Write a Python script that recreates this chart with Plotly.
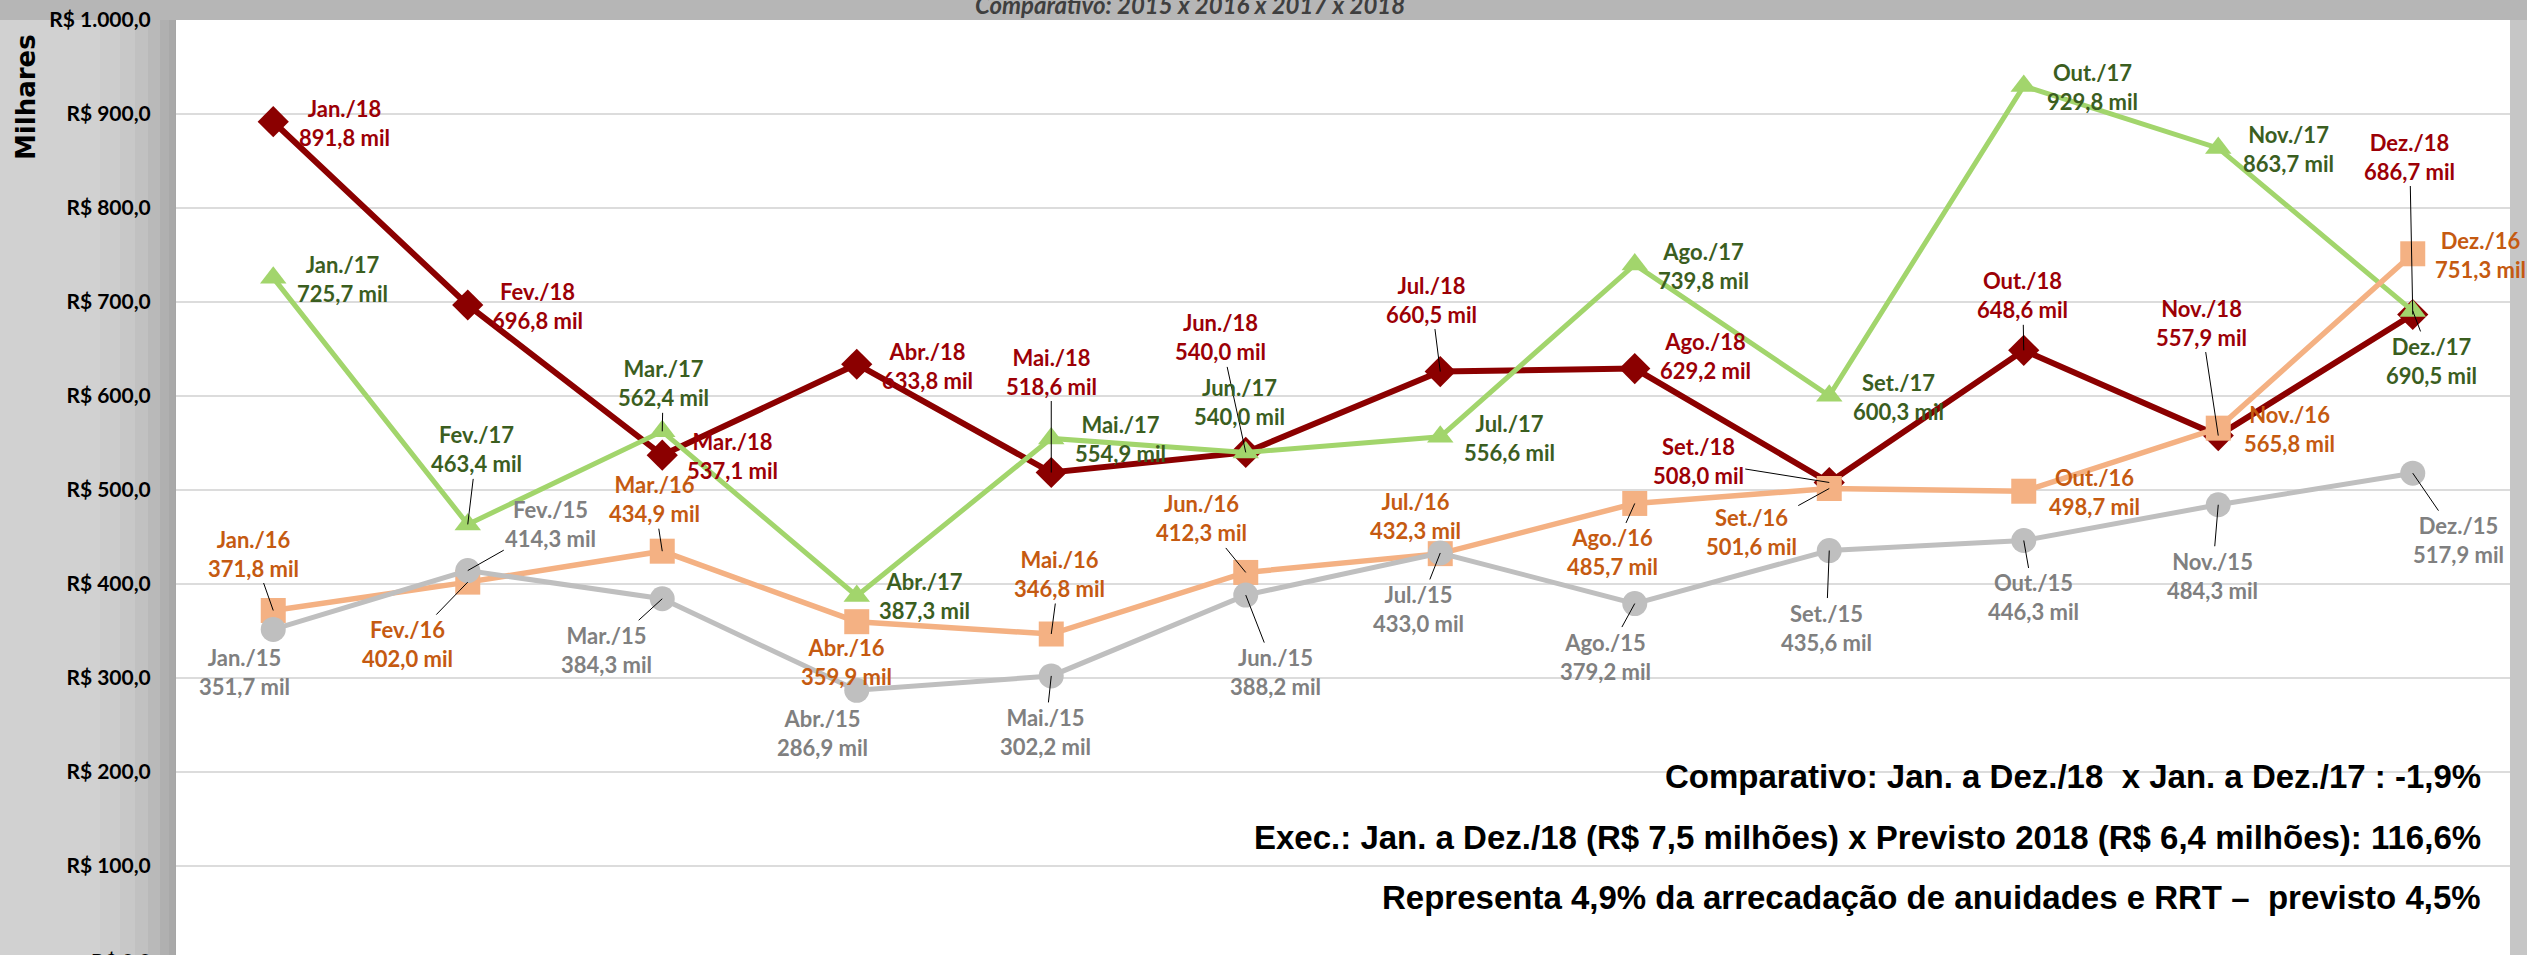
import plotly.graph_objects as go

# ---------------- data ----------------
months = ["Jan", "Fev", "Mar", "Abr", "Mai", "Jun", "Jul", "Ago", "Set", "Out", "Nov", "Dez"]
month_abbr = ["Jan.", "Fev.", "Mar.", "Abr.", "Mai.", "Jun.", "Jul.", "Ago.", "Set.", "Out.", "Nov.", "Dez."]

val_2015 = [351.7, 414.3, 384.3, 286.9, 302.2, 388.2, 433.0, 379.2, 435.6, 446.3, 484.3, 517.9]
val_2016 = [371.8, 402.0, 434.9, 359.9, 346.8, 412.3, 432.3, 485.7, 501.6, 498.7, 565.8, 751.3]
val_2017 = [725.7, 463.4, 562.4, 387.3, 554.9, 540.0, 556.6, 739.8, 600.3, 929.8, 863.7, 690.5]
# 2018: plotted position (Jul point sits lower than its label says)
val_2018_plot = [891.8, 696.8, 537.1, 633.8, 518.6, 540.0, 626.0, 629.2, 508.0, 648.6, 557.9, 686.7]
val_2018_label = [891.8, 696.8, 537.1, 633.8, 518.6, 540.0, 660.5, 629.2, 508.0, 648.6, 557.9, 686.7]

y_tick_vals = [100, 200, 300, 400, 500, 600, 700, 800, 900, 1000]
y_tick_text = ["R$ 100,0", "R$ 200,0", "R$ 300,0", "R$ 400,0", "R$ 500,0",
               "R$ 600,0", "R$ 700,0", "R$ 800,0", "R$ 900,0", "R$ 1.000,0"]

title_text = "Comparativo: 2015 x 2016 x 2017 x 2018"
y_title = "Milhares"
notes = [
    "Comparativo: Jan. a Dez./18 \u00a0x Jan. a Dez./17 : -1,9%",
    "Exec.: Jan. a Dez./18 (R$ 7,5 milhões) x Previsto 2018 (R$ 6,4 milhões): 116,6%",
    "Representa 4,9% da arrecadação de anuidades e RRT – \u00a0previsto 4,5%",
]

# ---------------- label placement (pixel offsets from point) ----------------
off_2018 = [(71, 1), (70, 1), (70, 1), (71, 2), (0, -101), (-25, -115), (-9, -72),
            (71, -13), (-131, -21), (-1, -55), (-17, -113), (-3, -158)]
lead_2018 = [0, 0, 0, 0, 1, 1, 1, 0, 1, 1, 1, 1]
off_2017 = [(69, 1), (9, -75), (1, -48), (68, 0), (69, 1), (-6, -50), (69, 1),
            (69, 1), (69, 1), (69, 1), (70, 1), (19, 50)]
lead_2017 = [0, 1, 1, 0, 0, 0, 0, 0, 0, 0, 0, 1]
off_2016 = [(-20, -57), (-60, 62), (-8, -52), (-10, 40), (8, -60), (-44, -54), (-25, -38),
            (-22, 49), (-78, 43), (71, 1), (71, 1), (68, 1)]
lead_2016 = [1, 1, 1, 0, 1, 1, 0, 1, 1, 0, 0, 0]
off_2015 = [(-29, 43), (83, -47), (-56, 51), (-34, 43), (-6, 56), (30, 77), (-22, 56),
            (-29, 53), (-3, 77), (10, 57), (-6, 71), (46, 67)]
lead_2015 = [0, 1, 1, 0, 1, 1, 1, 1, 1, 1, 1, 1]

def fmt(v):
    return f"{v:.1f}".replace(".", ",") + " mil"

series = [
    dict(name="2018", y=val_2018_plot, lab=val_2018_label, yy="18", line="#8B0000",
         marker="#8B0000", symbol="diamond", msize=24, lw=6, txt="#9C0006",
         off=off_2018, lead=lead_2018),
    dict(name="2017", y=val_2017, lab=val_2017, yy="17", line="#A2D56C",
         marker="#A2D56C", symbol="triangle-up", msize=23, lw=5, txt="#3B5E1F",
         off=off_2017, lead=lead_2017),
    dict(name="2016", y=val_2016, lab=val_2016, yy="16", line="#F4B183",
         marker="#F4B183", symbol="square", msize=25, lw=5.5, txt="#C55A11",
         off=off_2016, lead=lead_2016),
    dict(name="2015", y=val_2015, lab=val_2015, yy="15", line="#BFBFBF",
         marker="#BFBFBF", symbol="circle", msize=25, lw=5, txt="#808080",
         off=off_2015, lead=lead_2015),
]

fig = go.Figure()
annotations = []
for s in series:
    fig.add_trace(go.Scatter(
        x=months, y=s["y"], mode="lines+markers", name=s["name"],
        line=dict(color=s["line"], width=s["lw"]),
        marker=dict(symbol=s["symbol"], size=s["msize"], color=s["marker"]),
        showlegend=False, cliponaxis=False,
    ))
    for i, m in enumerate(months):
        dx, dy = s["off"][i]
        annotations.append(dict(
            x=m, y=s["y"][i], xref="x", yref="y",
            text=f"{month_abbr[i]}/{s['yy']}<br>{fmt(s['lab'][i])}",
            showarrow=True, ax=dx, ay=dy, axref="pixel", ayref="pixel",
            arrowhead=0, arrowwidth=1, standoff=0,
            arrowcolor="#000000" if s["lead"][i] else "rgba(0,0,0,0)",
            font=dict(family="Lato", size=22, color=s["txt"], weight="bold"),
            align="center",
        ))

# layout geometry helpers (pixel -> paper)
W, H = 2527, 955
ML, MR, MT, MB = 176, 17, 20, 0
PW, PH = W - ML - MR, H - MT - MB

def px(xp):
    return (xp - ML) / PW

def py(yp):
    return (H - MB - yp) / PH

# title (cut at top)
annotations.append(dict(
    x=px(1190), y=py(4.5), xref="paper", yref="paper", showarrow=False,
    text=f"<i>{title_text}</i>", xanchor="center", yanchor="middle",
    font=dict(family="Lato", size=24, color="#3F3F3F", weight="bold"),
))
# y axis title
annotations.append(dict(
    x=px(26), y=py(97), xref="paper", yref="paper", showarrow=False,
    text=y_title, textangle=-90, xanchor="center", yanchor="middle",
    font=dict(family="DejaVu Sans", size=26, color="#000000", weight="bold"),
))
# R$ 0,0 tick label (mostly cut at bottom)
annotations.append(dict(
    x=0, y=py(960), xref="paper", yref="paper", showarrow=False,
    text="R$ 0,0", xanchor="right", yanchor="middle", xshift=-23,
    font=dict(family="Lato", size=21, color="#000000", weight="bold"),
))
# notes
for txt, yc in zip(notes, [776, 837, 897]):
    annotations.append(dict(
        x=px(2483), y=py(yc), xref="paper", yref="paper", showarrow=False,
        text=txt, xanchor="right", yanchor="middle",
        font=dict(family="Liberation Sans", size=33, color="#000000", weight="bold"),
    ))

shapes = []
# top band
shapes.append(dict(type="rect", xref="paper", yref="paper", x0=px(0), x1=px(W),
                   y0=py(20), y1=py(0), fillcolor="#b6b6b6", line=dict(width=0), layer="below"))
# left margin gradient
for x0, x1, c in [(100, 120, "#cdcdcd"), (120, 135, "#c8c8c8"), (135, 148, "#c1c1c1"),
                  (148, 160, "#b9b9b9"), (160, 169, "#b0b0b0"), (169, 176, "#a9a9a9")]:
    shapes.append(dict(type="rect", xref="paper", yref="paper", x0=px(x0), x1=px(x1),
                       y0=py(H), y1=py(20), fillcolor=c, line=dict(width=0), layer="below"))
# right band
shapes.append(dict(type="rect", xref="paper", yref="paper", x0=px(2510), x1=px(W),
                   y0=py(H), y1=py(20), fillcolor="#c6c6c6", line=dict(width=0), layer="below"))

fig.update_layout(
    width=W, height=H,
    margin=dict(l=ML, r=MR, t=MT, b=MB, pad=0, autoexpand=False),
    paper_bgcolor="#d1d1d1", plot_bgcolor="#ffffff",
    annotations=annotations, shapes=shapes,
    xaxis=dict(type="category", range=[-0.5, 11.5], showticklabels=False,
               showgrid=False, zeroline=False, showline=False, ticks="", automargin=False),
    yaxis=dict(range=[5.32, 1000], tickvals=y_tick_vals, ticktext=y_tick_text,
               showgrid=True, gridcolor="#dcdcdc", gridwidth=2, zeroline=False,
               showline=True, linecolor="#a6a6a6", linewidth=1, automargin=False,
               ticks="outside", ticklen=20, tickcolor="rgba(0,0,0,0)",
               tickfont=dict(family="Lato", size=21, color="#000000", weight="bold")),
    showlegend=False,
)

fig.write_html(
    "out.html",
    config={"displayModeBar": False},
    post_script="document.body.style.margin='0';document.body.style.padding='0';"
                "document.body.style.overflow='hidden';"
                "document.documentElement.style.overflow='hidden';",
)
